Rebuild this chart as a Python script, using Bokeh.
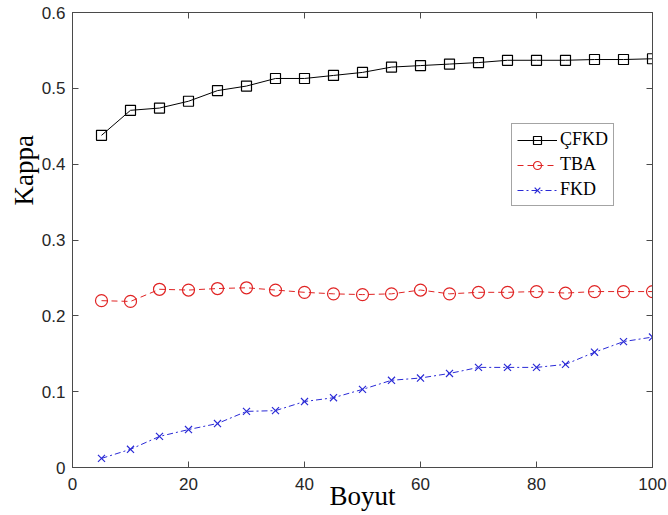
from bokeh.plotting import figure
from bokeh.models import LinearAxis, Range1d, Legend, LegendItem, FixedTicker, Title
from bokeh.embed import file_html
from bokeh.resources import INLINE

# Kappa values per dimension for each method
boyut = [5, 10, 15, 20, 25, 30, 35, 40, 45, 50, 55, 60, 65, 70, 75, 80, 85, 90, 95, 100]
cfkd = [0.438, 0.471, 0.474, 0.483, 0.497, 0.503, 0.513, 0.513, 0.517, 0.521,
        0.528, 0.530, 0.532, 0.534, 0.537, 0.537, 0.537, 0.538, 0.538, 0.539]
tba = [0.220, 0.219, 0.235, 0.234, 0.236, 0.237, 0.234, 0.231, 0.229, 0.228,
       0.229, 0.234, 0.229, 0.231, 0.231, 0.232, 0.230, 0.232, 0.232, 0.232]
fkd = [0.012, 0.024, 0.041, 0.050, 0.058, 0.074, 0.075, 0.087, 0.092, 0.103,
       0.115, 0.118, 0.124, 0.132, 0.132, 0.132, 0.136, 0.152, 0.166, 0.172]

x_ticks = [0, 20, 40, 60, 80, 100]
y_ticks = [0, 0.1, 0.2, 0.3, 0.4, 0.5, 0.6]

AXIS = "#4a4a4a"
TICKTXT = "#262626"

p = figure(width=668, height=515, output_backend="svg", toolbar_location=None,
           x_range=Range1d(0, 100), y_range=Range1d(0, 0.6),
           min_border_left=72, min_border_right=16, min_border_top=12, min_border_bottom=48,
           x_axis_location=None, y_axis_location=None)
p.grid.visible = False
p.outline_line_color = AXIS
p.background_fill_color = "white"
p.border_fill_color = "white"


def style_axis(ax, ticks, labels=True):
    ax.axis_line_color = AXIS
    ax.major_tick_line_color = AXIS
    ax.major_tick_in = 6
    ax.major_tick_out = 0
    ax.minor_tick_line_color = None
    ax.major_label_text_font = "Liberation Sans"
    ax.major_label_text_font_size = "17px"
    ax.major_label_text_color = TICKTXT
    if not labels:
        # mirrored ticks on the top/right edges carry no labels
        ax.major_label_overrides = {t: "" for t in ticks}
        ax.major_label_standoff = 0


xb = LinearAxis(ticker=FixedTicker(ticks=x_ticks), axis_label="Boyut")
style_axis(xb, x_ticks)
xb.major_label_standoff = 10
xb.axis_label_text_font = "Liberation Serif"
xb.axis_label_text_font_size = "27px"
xb.axis_label_text_font_style = "normal"
xb.axis_label_text_color = "black"
xb.axis_label_standoff = -12
p.add_layout(xb, "below")

yl = LinearAxis(ticker=FixedTicker(ticks=y_ticks))
style_axis(yl, y_ticks)
yl.major_label_standoff = 7
p.add_layout(yl, "left")

# y title starts above the axis centre, level with the 0.4 tick
ytitle = Title(text="Kappa", align="left", offset=262, standoff=0,
               text_font="Liberation Serif", text_font_size="27px",
               text_font_style="normal", text_color="black")
p.add_layout(ytitle, "left")

xt = LinearAxis(ticker=FixedTicker(ticks=x_ticks))
style_axis(xt, x_ticks, labels=False)
p.add_layout(xt, "above")

yr = LinearAxis(ticker=FixedTicker(ticks=y_ticks))
style_axis(yr, y_ticks, labels=False)
p.add_layout(yr, "right")

# series
l1 = p.line(boyut, cfkd, line_color="black", line_width=1)
m1 = p.scatter(boyut, cfkd, marker="square", size=10, line_color="black",
               fill_alpha=0, line_width=1.2)

l2 = p.line(boyut, tba, line_color="#e02424", line_width=1, line_dash="6 4")
m2 = p.scatter(boyut, tba, marker="circle", size=12, line_color="#e02424",
               fill_alpha=0, line_width=1.2)

l3 = p.line(boyut, fkd, line_color="#2a2ad6", line_width=1, line_dash="6 3 2 3")
m3 = p.scatter(boyut, fkd, marker="x", size=10, line_color="#2a2ad6", line_width=1.2)

legend = Legend(items=[
    LegendItem(label="ÇFKD", renderers=[l1, m1]),
    LegendItem(label="TBA", renderers=[l2, m2]),
    LegendItem(label="FKD", renderers=[l3, m3]),
], location=(439, 261))
legend.label_text_font = "Liberation Serif"
legend.label_text_font_size = "18px"
legend.label_text_color = "black"
legend.label_height = 20
legend.glyph_height = 20
legend.glyph_width = 40
legend.label_standoff = 3
legend.spacing = 4
legend.padding = 5
legend.margin = 0
legend.border_line_color = AXIS
legend.background_fill_color = "white"
legend.background_fill_alpha = 1
p.add_layout(legend, "center")

open("out.html", "w").write(file_html(p, INLINE))
